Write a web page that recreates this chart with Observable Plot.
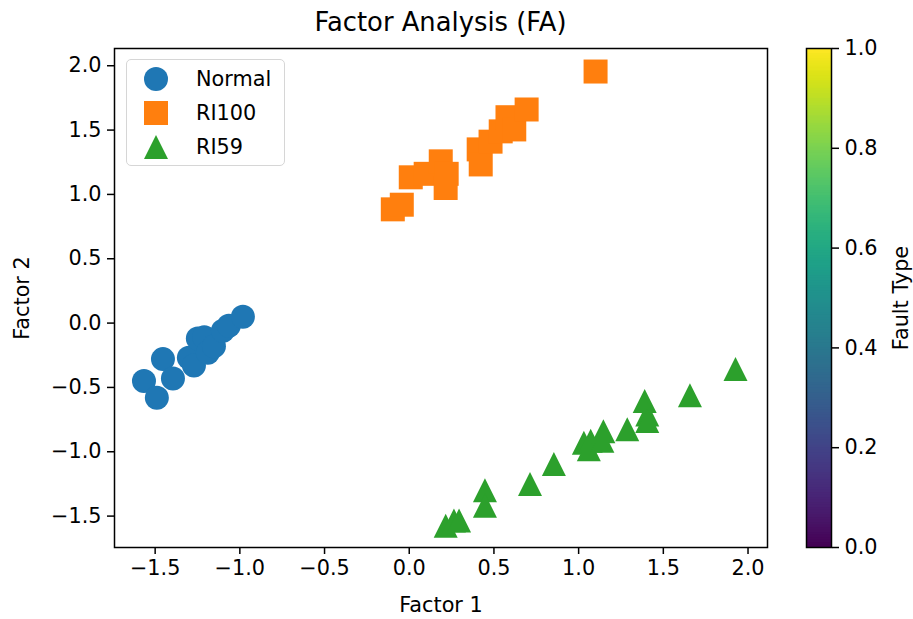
<!DOCTYPE html>
<html>
<head>
<meta charset="utf-8">
<script src="https://cdn.jsdelivr.net/npm/d3@7"></script>
<script src="https://cdn.jsdelivr.net/npm/@observablehq/plot@0.6"></script>
<style>
  body { margin: 0; background: #fff; }
  #fig { position: relative; width: 913px; height: 619px; font-family: "DejaVu Sans", sans-serif; color: #000; overflow: hidden; }
  #fig .layer { position: absolute; top: 0; }
  #title { position: absolute; left: 114px; width: 653px; top: 7px; text-align: center; font-size: 25.8px; line-height: 30px; }
  #legend { position: absolute; left: 126px; top: 59px; width: 159px; height: 107px; box-sizing: border-box;
            border: 1.5px solid #d6d6d6; border-radius: 5px; background: rgba(255,255,255,0.8); }
</style>
</head>
<body>
<div id="fig">
  <div id="title">Factor Analysis (FA)</div>
</div>
<script>
// Fault classes and their tab10 colours
const categories = ["Normal", "RI100", "RI59"];
const colors = ["#1f77b4", "#ff7f0e", "#2ca02c"];

// Factor scores per class
const normalX = [-1.566, -1.490, -1.454, -1.395, -1.301, -1.271, -1.248, -1.210, -1.189, -1.153, -1.100, -1.065, -0.982];
const normalY = [-0.45, -0.58, -0.28, -0.43, -0.27, -0.33, -0.12, -0.11, -0.23, -0.18, -0.06, -0.02, 0.05];

const ri100X = [-0.097, -0.044, 0.009, 0.097, 0.186, 0.221, 0.215, 0.410, 0.422, 0.480, 0.540, 0.580, 0.620, 0.693, 1.100];
const ri100Y = [0.884, 0.920, 1.133, 1.160, 1.257, 1.160, 1.050, 1.350, 1.233, 1.410, 1.490, 1.600, 1.505, 1.660, 1.955];

const ri59X = [0.215, 0.264, 0.294, 0.447, 0.447, 0.713, 0.854, 1.031, 1.060, 1.071, 1.140, 1.146, 1.287, 1.390, 1.405, 1.405, 1.657, 1.926];
const ri59Y = [-1.575, -1.535, -1.535, -1.300, -1.420, -1.250, -1.096, -0.930, -0.980, -0.915, -0.915, -0.840, -0.825, -0.605, -0.710, -0.760, -0.560, -0.357];

// Axis ticks
const xTicks = [-1.5, -1.0, -0.5, 0.0, 0.5, 1.0, 1.5, 2.0];
const yTicks = [-1.5, -1.0, -0.5, 0.0, 0.5, 1.0, 1.5, 2.0];
const cbTicks = [0.0, 0.2, 0.4, 0.6, 0.8, 1.0];

const fmt = d3.format(".1f");
const FONT = "20.8px";
const MARKER_R = 12;

// Marker shapes sized so that r is the half-width of each glyph
const circle = { draw(ctx, size) { const h = Math.sqrt(size / Math.PI); ctx.moveTo(h, 0); ctx.arc(0, 0, h, 0, 2 * Math.PI); } };
const square = { draw(ctx, size) { const h = Math.sqrt(size / Math.PI); ctx.rect(-h, -h, 2 * h, 2 * h); } };
const triangle = { draw(ctx, size) { const h = Math.sqrt(size / Math.PI); ctx.moveTo(0, -h); ctx.lineTo(h, h); ctx.lineTo(-h, h); ctx.closePath(); } };
const symbols = [circle, square, triangle];

const series = [
  normalX.map((x, i) => ({x, y: normalY[i]})),
  ri100X.map((x, i) => ({x, y: ri100Y[i]})),
  ri59X.map((x, i) => ({x, y: ri59Y[i]}))
];

const fig = document.getElementById("fig");

const main = Plot.plot({
  width: 790,
  height: 619,
  marginTop: 48,
  marginBottom: 72,
  marginLeft: 114,
  marginRight: 23,
  style: { fontFamily: "DejaVu Sans", fontSize: FONT, color: "#000", background: "transparent", overflow: "visible" },
  x: { domain: [-1.74, 2.115] },
  y: { domain: [-1.744, 2.134] },
  marks: [
    ...series.map((data, k) => Plot.dot(data, { x: "x", y: "y", r: MARKER_R, symbol: symbols[k], fill: colors[k], stroke: "none" })),
    Plot.frame({ stroke: "#000", strokeWidth: 1.5 }),
    Plot.axisX({ ticks: xTicks, tickFormat: fmt, tickSize: 7, tickPadding: 6, strokeWidth: 1.5, label: "Factor 1", labelAnchor: "center", labelArrow: false, labelOffset: 64 }),
    Plot.axisY({ ticks: yTicks, tickFormat: fmt, tickSize: 7, tickPadding: 6, strokeWidth: 1.5, label: "Factor 2", labelAnchor: "center", labelArrow: false, labelOffset: 100 })
  ]
});
main.classList.add("layer");
main.style.left = "0px";
fig.appendChild(main);

// Colour bar: a fine ramp of rectangles through the viridis scale
const step = 0.005;
const rampStops = d3.range(0, 1, step);
const colorbar = Plot.plot({
  width: 133,
  height: 619,
  marginTop: 48,
  marginBottom: 72,
  marginLeft: 26,
  marginRight: 82,
  style: { fontFamily: "DejaVu Sans", fontSize: FONT, color: "#000", background: "transparent", overflow: "visible" },
  x: { domain: [0, 1], axis: null },
  y: { domain: [0, 1] },
  color: { type: "linear", scheme: "viridis", domain: [0, 1] },
  marks: [
    Plot.rect(rampStops, { x1: 0, x2: 1, y1: d => d, y2: d => Math.min(1, d + step * 1.6), fill: d => d + step / 2 }),
    Plot.frame({ stroke: "#000", strokeWidth: 1.5 }),
    Plot.axisY({ anchor: "right", ticks: cbTicks, tickFormat: fmt, tickSize: 7, tickPadding: 6, strokeWidth: 1.5, label: "Fault Type", labelAnchor: "center", labelArrow: false, labelOffset: 76 })
  ]
});
colorbar.classList.add("layer");
colorbar.style.left = "780px";
fig.appendChild(colorbar);

// Legend box with one marker per class
const legend = d3.select(fig).append("div").attr("id", "legend");
const lsvg = legend.append("svg").attr("width", 156).attr("height", 104).style("display", "block");
categories.forEach((name, k) => {
  const cy = 19 + k * 34;
  lsvg.append("path")
    .attr("transform", `translate(29,${cy})`)
    .attr("d", d3.symbol(symbols[k], Math.PI * MARKER_R * MARKER_R)())
    .attr("fill", colors[k]);
  lsvg.append("text")
    .attr("x", 69).attr("y", cy)
    .attr("dy", "0.35em")
    .attr("font-family", "DejaVu Sans")
    .attr("font-size", FONT)
    .attr("fill", "#000")
    .text(name);
});
</script>
</body>
</html>
